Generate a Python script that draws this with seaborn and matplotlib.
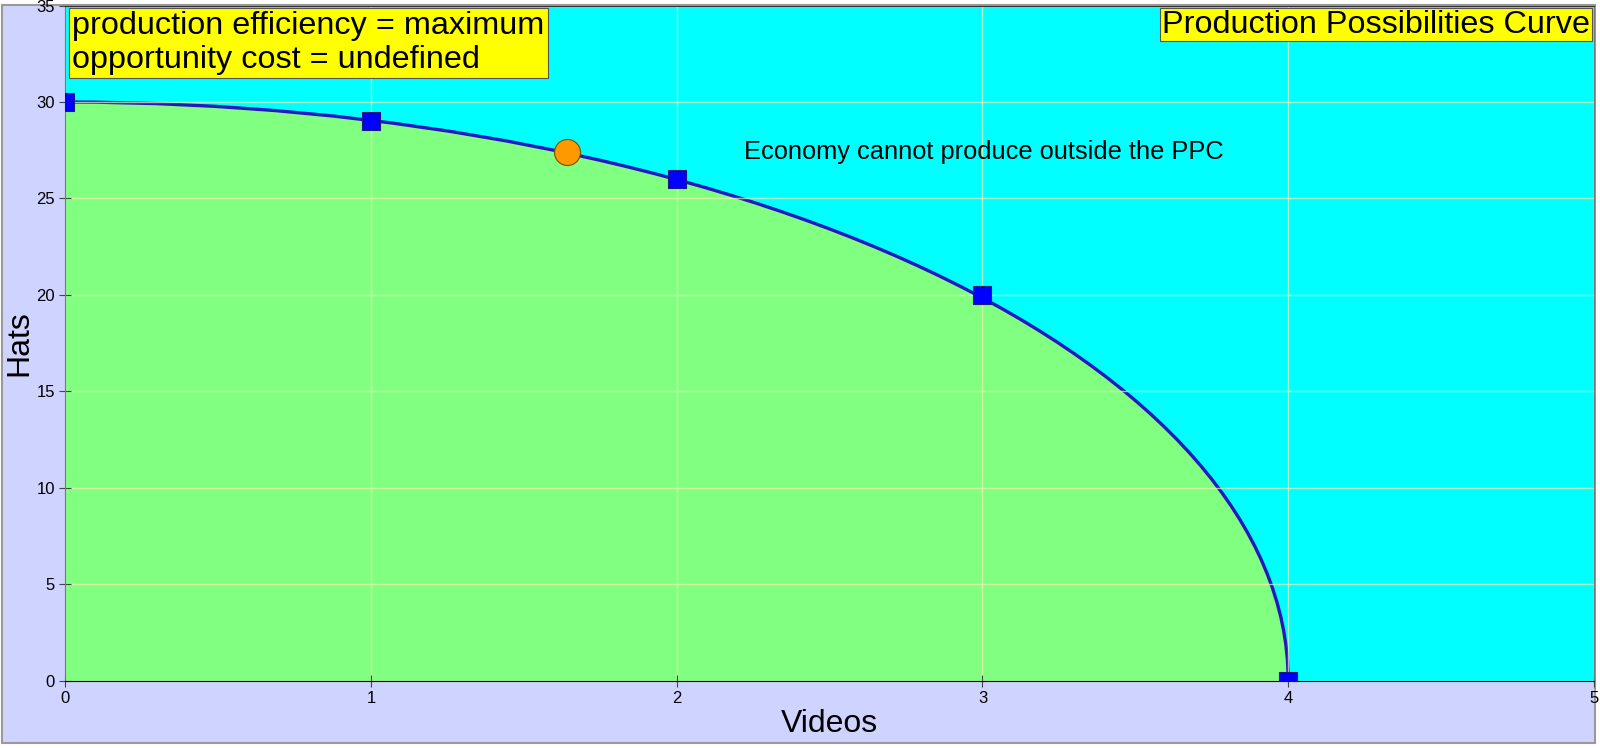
"""Production possibilities curve: hats vs videos."""
import matplotlib
matplotlib.use("Agg")
import matplotlib.pyplot as plt
import seaborn as sns
import pandas as pd
from matplotlib.patches import Ellipse, Rectangle

# PPC schedule
videos = [0, 1, 2, 3, 4]
hats = [30, 29, 26, 20, 0]

# current production point (orange)
current_videos = [1.64]
current_hats = [27.4]

x_ticks = [0, 1, 2, 3, 4, 5]
y_ticks = [0, 5, 10, 15, 20, 25, 30, 35]

info_text = "production efficiency = maximum\nopportunity cost = undefined"
title_text = "Production Possibilities Curve"
note_text = "Economy cannot produce outside the PPC"

LAVENDER = "#CFD3FF"
CYAN = "#00FFFF"
GREEN = "#80FF80"

sns.set_style("white")
plt.rcParams["font.family"] = ["Liberation Sans", "DejaVu Sans"]
plt.rcParams["text.color"] = "black"
plt.rcParams["axes.labelcolor"] = "black"

fig = plt.figure(figsize=(16, 7.48), dpi=100, facecolor="white")
fig.patches.append(Rectangle((0.00125, 0.0067), 0.9956, 0.9866, transform=fig.transFigure,
                             facecolor=LAVENDER, edgecolor="#999999", linewidth=1.5, zorder=-10))

ax = fig.add_axes([0.0408, 0.0901, 0.9554, 0.9024])
ax.set_facecolor(CYAN)
ax.set_xlim(0, 5)
ax.set_ylim(0, 35)

# attainable region: quarter ellipse through the schedule end points
ppc = Ellipse((0, 0), 2 * max(videos), 2 * max(hats), facecolor=GREEN,
              edgecolor="#2418c0", linewidth=2.4, zorder=0.4)
ax.add_patch(ppc)

ax.set_axisbelow(True)
ax.grid(True, color="#F0F4B0", linewidth=1, alpha=0.7)

df = pd.DataFrame({"Videos": videos, "Hats": hats})
sns.scatterplot(data=df, x="Videos", y="Hats", marker="s", s=185, color="#0000FF",
                edgecolor="#1a1a80", linewidth=0.8, ax=ax, zorder=3)
cur = pd.DataFrame({"Videos": current_videos, "Hats": current_hats})
sns.scatterplot(data=cur, x="Videos", y="Hats", marker="o", s=350, color="#FF9900",
                edgecolor="#7a4a00", linewidth=0.8, ax=ax, zorder=4)

ax.set_xticks(x_ticks)
ax.set_yticks(y_ticks)
ax.tick_params(bottom=True, left=True, direction="inout", length=9, width=0.8,
               color="#444444", labelsize=12, labelcolor="black", pad=3)
ax.set_xlabel("Videos", fontsize=23, labelpad=2)
ax.set_ylabel("Hats", fontsize=23, labelpad=1)

for side in ["left", "right"]:
    ax.spines[side].set_color("#777777")
ax.spines["bottom"].set_color("black")
ax.spines["top"].set_color("#333333")

ax.text(0.0045, 0.992, info_text, transform=ax.transAxes, ha="left", va="top",
        fontsize=23.3, linespacing=1.18, zorder=6,
        bbox=dict(boxstyle="square,pad=0.1", facecolor="#FFFF00", edgecolor="#555555", linewidth=0.8))
ax.text(0.9975, 0.994, title_text, transform=ax.transAxes, ha="right", va="top",
        fontsize=23.3, zorder=6,
        bbox=dict(boxstyle="square,pad=0.05", facecolor="#FFFF00", edgecolor="#555555", linewidth=0.8))
ax.text(2.22, 27.4, note_text, fontsize=18.3, ha="left", va="center", zorder=6)

fig.savefig("out.png", dpi=100, facecolor="white")
